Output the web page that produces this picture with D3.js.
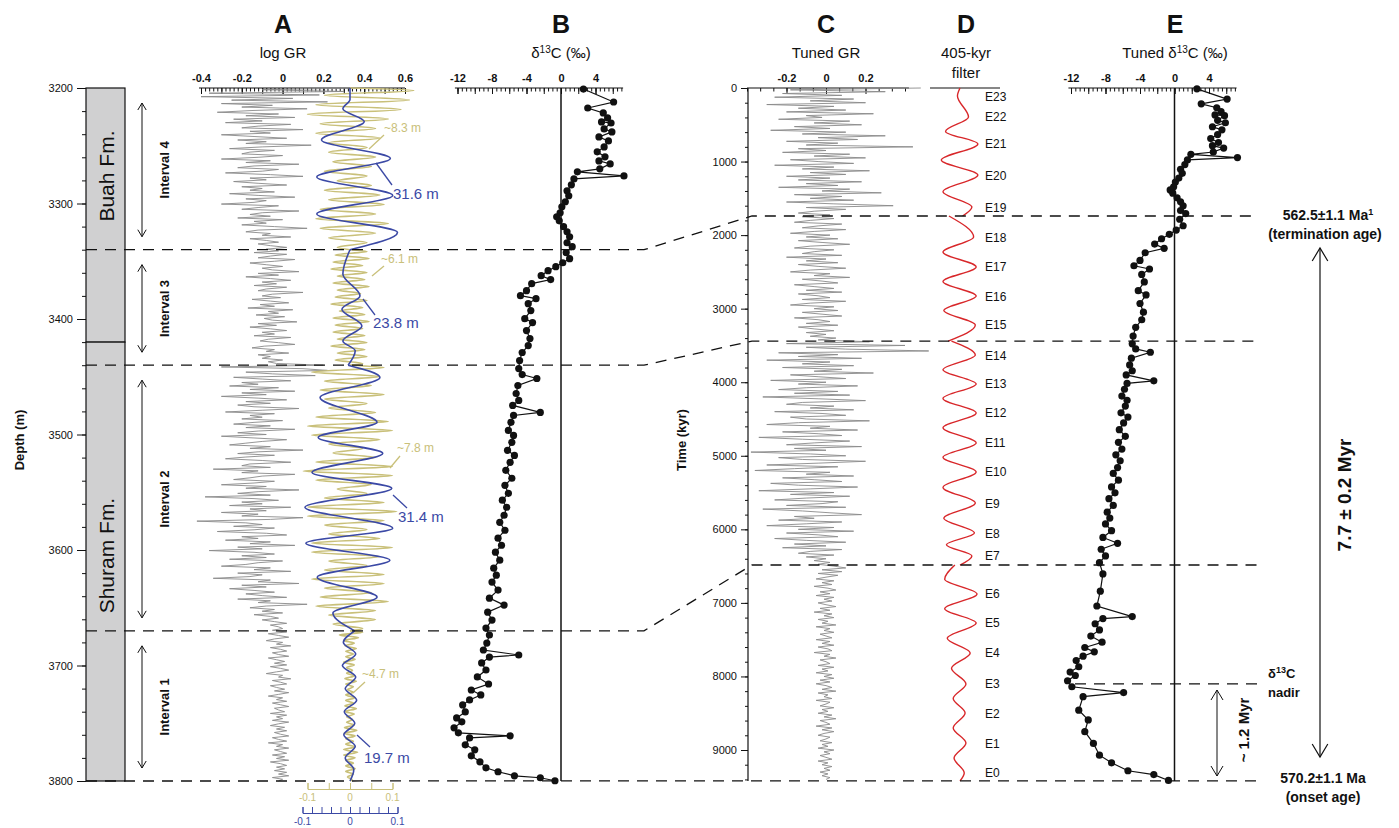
<!DOCTYPE html>
<html>
<head>
<meta charset="utf-8">
<script src="https://cdn.jsdelivr.net/npm/d3@7"></script>
<style>
  body { margin: 0; background: #fff; }
  svg { display: block; }
  text { font-family: "Liberation Sans", Arial, Helvetica, sans-serif; }
</style>
</head>
<body>
<svg id="chart" width="1399" height="828"></svg>
<script>
// ---------------- Data ----------------
// Depth / age tie points (m, kyr) for the tuned age model
const tieDepth = [3200, 3340, 3440, 3670, 3691, 3757, 3800];
const tieTime  = [0, 1740, 3440, 6485, 7190, 8100, 9420];
// Which tie points carry a correlation line, the δ13C nadir and the base
const correlationTies = [1, 2, 3];
const nadirTie = 5, baseTie = 6;

// Interval boundaries (m) and names
const intervalTops = [3200, 3340, 3440, 3670];
const intervalBots = [3340, 3440, 3670, 3800];
const intervalNames = ["Interval 4", "Interval 3", "Interval 2", "Interval 1"];

// Formations (m)
const formations = [
  { name: "Buah Fm.",   top: 3200, bot: 3420 },
  { name: "Shuram Fm.", top: 3420, bot: 3800 }
];

// log GR sampled every 1.5 m from 3200 m
const grStart = 3200, grStep = 1.5;
const logGR = [
  0.38, -0.1, 0.3, -0.36, 0.18, -0.4, 0.05, -0.25, 0.22, -0.3,
  -0.05, -0.2, 0.12, -0.15, -0.32, -0.02, -0.18, 0.06, -0.24, -0.1,
  -0.28, 0.04, -0.12, -0.2, 0.1, -0.16, -0.06, -0.3, -0.14, 0.02,
  -0.22, -0.08, -0.18, 0.14, -0.1, -0.26, -0.04, -0.16, -0.2, 0.0,
  -0.12, -0.3, -0.06, -0.18, 0.08, -0.14, -0.22, -0.02, -0.1, -0.28,
  -0.06, 0.1, -0.16, -0.08, -0.24, -0.12, 0.02, -0.2, -0.1, -0.16,
  -0.04, -0.26, -0.12, 0.06, -0.18, -0.08, -0.14, -0.3, -0.02, -0.12,
  -0.2, 0.08, -0.1, -0.16, -0.06, -0.22, 0.0, -0.14, -0.08, -0.2,
  -0.04, 0.12, -0.12, -0.18, -0.06, -0.1, 0.04, -0.16, -0.08, -0.02,
  -0.12, -0.06, 0.02,
  -0.08, -0.02, -0.14, 0.02, -0.06, -0.12, 0.06, -0.04, -0.16, -0.08,
  0.0, -0.1, -0.05, 0.08, -0.12, -0.02, -0.18, -0.06, 0.04, -0.1,
  -0.03, -0.14, 0.02, -0.08, -0.12, 0.1, -0.05, -0.1, -0.01, -0.15,
  -0.06, 0.03, -0.11, -0.04, -0.17, 0.05, -0.07, -0.02, -0.13, 0.01,
  -0.09, -0.05, 0.07, -0.12, -0.03, -0.16, -0.06, 0.02, -0.1, -0.04,
  -0.14, 0.04, -0.07, -0.11, -0.02, 0.06, -0.09, -0.15, -0.04, -0.08,
  0.03, -0.12, -0.06, -0.1, 0.0, -0.07, -0.03,
  0.2, -0.3, 0.1, 0.22, -0.18, -0.05, 0.16, -0.24, -0.1, 0.04,
  -0.2, -0.12, -0.26, -0.02, -0.16, 0.06, -0.2, -0.08, -0.3, -0.12,
  0.02, -0.18, -0.06, -0.22, -0.14, 0.08, -0.1, -0.28, -0.04, -0.16,
  -0.1, -0.2, 0.0, -0.14, -0.24, -0.06, -0.18, 0.06, -0.12, -0.22,
  -0.08, -0.3, -0.14, 0.02, -0.1, -0.18, -0.26, -0.06, -0.16, 0.1,
  -0.12, -0.22, -0.04, -0.18, -0.28, -0.1, 0.04, -0.16, -0.2, -0.06,
  -0.34, -0.12, -0.2, 0.06, -0.1, -0.16, -0.24, -0.04, -0.14, -0.3,
  -0.08, -0.18, 0.08, -0.12, -0.22, -0.06, -0.38, -0.14, -0.02, -0.2,
  -0.1, -0.26, 0.04, -0.16, -0.08, -0.3, -0.12, -0.2, 0.1, -0.06,
  -0.42, -0.18, -0.1, -0.24, -0.04, -0.14, -0.32, -0.08, 0.02, -0.2,
  -0.12, -0.28, -0.06, -0.16, 0.06, -0.22, -0.1, -0.36, -0.14, -0.04,
  -0.2, -0.08, -0.26, 0.0, -0.12, -0.18, -0.3, -0.06, -0.14, 0.04,
  -0.22, -0.1, -0.16, -0.34, -0.06, -0.12, 0.08, -0.2, -0.08, -0.26,
  -0.14, -0.04, -0.18, -0.1, 0.02, -0.22, -0.06, -0.12, 0.12, -0.08,
  -0.16, -0.04, -0.1, 0.0, -0.14, -0.06, -0.02, -0.1, -0.04, 0.02,
  -0.06, -0.02, 0.0,
  -0.05, 0.02, -0.07, -0.02, 0.03, -0.04, -0.08, 0.0, -0.03, 0.04,
  -0.06, -0.01, 0.02, -0.05, -0.02, 0.03, -0.07, -0.03, 0.01, -0.04,
  0.02, -0.06, -0.01, 0.03, -0.03, -0.08, 0.0, -0.02, 0.04, -0.05,
  -0.01, 0.02, -0.06, -0.03, 0.01, -0.04, 0.03, -0.02, -0.07, 0.0,
  -0.03, 0.02, -0.05, -0.01, 0.03, -0.04, -0.02, 0.01, -0.06, 0.02,
  -0.03, 0.0, -0.05, 0.03, -0.02, -0.06, 0.01, -0.03, 0.02, -0.04,
  -0.01, 0.03, -0.05, -0.02, 0.02, -0.07, 0.0, -0.03, 0.03, -0.04,
  -0.01, 0.02, -0.05, 0.01, -0.03, 0.03, -0.06, -0.01, 0.02, -0.03,
  0.01, -0.04, 0.02, -0.02, 0.03, -0.05, 0.0, -0.02
];

// Short-period filter extremes per interval (Interval 4 .. Interval 1)
const yellowInt4 = [0.15, -0.06, 0.14, -0.08, 0.12, -0.1, 0.09, -0.07, 0.06, -0.08, 0.07, -0.05, 0.04, -0.05, 0.06, -0.04, 0.05, -0.06, 0.04, -0.03, 0.05, -0.06, 0.07, -0.05, 0.08, -0.07, 0.06, -0.08, 0.09, -0.07, 0.06, -0.05, 0.04, -0.03];
const yellowInt3 = [0.04, -0.035, 0.045, -0.04, 0.03, -0.045, 0.04, -0.03, 0.035, -0.04, 0.045, -0.03, 0.025, -0.035, 0.04, -0.045, 0.03, -0.025, 0.035, -0.04, 0.045, -0.035, 0.03, -0.04, 0.035, -0.03, 0.04, -0.045, 0.035, -0.03, 0.04, -0.035, 0.03];
const yellowInt2 = [0.08, -0.09, 0.07, -0.06, 0.05, -0.07, 0.08, -0.06, 0.04, -0.05, 0.06, -0.08, 0.09, -0.1, 0.1, -0.09, 0.07, -0.05, 0.03, -0.04, 0.06, -0.08, 0.1, -0.11, 0.1, -0.08, 0.05, -0.03, 0.04, -0.06, 0.08, -0.1, 0.11, -0.1, 0.08, -0.06, 0.04, -0.05, 0.07, -0.09, 0.1, -0.09, 0.07, -0.05, 0.04, -0.06, 0.08, -0.09, 0.08, -0.06, 0.05, -0.07, 0.09, -0.08, 0.06, -0.05, 0.06, -0.04, 0.03];
const yellowInt1 = [0.03, -0.025, 0.02, -0.015, 0.01, -0.012, 0.015, -0.01, 0.008, -0.01, 0.012, -0.015, 0.01, -0.008, 0.006, -0.008, 0.01, -0.012, 0.015, -0.01, 0.008, -0.006, 0.008, -0.01, 0.012, -0.01, 0.008, -0.012, 0.015, -0.012, 0.01, -0.008, 0.006, -0.008, 0.01, -0.013, 0.016, -0.014, 0.012, -0.01, 0.008, -0.01, 0.012, -0.015, 0.018, -0.015, 0.012, -0.01, 0.008, -0.01, 0.012, -0.01, 0.008, -0.006, 0.005];

// Long-period filter [depth m, value]
const blueInt4 = [[3200, 0], [3210, 0.0], [3218, -0.015], [3229, 0.03], [3245, -0.06], [3261, 0.085], [3277, -0.07], [3293, 0.09], [3309, -0.07], [3325, 0.1], [3340, 0]];
const blueInt3 = [[3340, 0], [3361, -0.015], [3380, 0.021], [3391.5, -0.017], [3406, 0.025], [3419, -0.015], [3427.5, 0.011], [3440, -0.004]];
const blueInt2 = [[3440, -0.004], [3450.6, 0.063], [3467.9, -0.063], [3489.5, 0.057], [3502.5, -0.067], [3516.3, 0.069], [3532.8, -0.08], [3546.6, 0.088], [3563, -0.095], [3581.2, 0.09], [3594.1, -0.093], [3608.8, 0.084], [3623.5, -0.069], [3640.8, 0.057], [3654.6, -0.036], [3670, 0.01]];
const blueInt1 = [[3670, 0.01], [3680, -0.014], [3690, 0.012], [3700, -0.016], [3710, 0.012], [3720, -0.01], [3730, 0.014], [3740, -0.012], [3750, 0.01], [3760, -0.013], [3770, 0.011], [3780, -0.01], [3790, 0.008], [3800, 0.0]];

// Carbon isotopes [depth m, δ13C ‰]
const d13C = [
  [3200.9, 2.6], [3212.1, 6.1], [3217.3, 3.1], [3221.6, 4.9], [3225.9, 5.4], [3229.4, 4.7], [3230.3, 5.8],
  [3235.4, 5.0], [3238.0, 5.9], [3242.4, 4.4], [3245.8, 5.5], [3251.0, 5.0], [3255.3, 4.2], [3259.6, 5.1],
  [3263.1, 4.4], [3265.7, 5.7], [3270.0, 4.5], [3272.6, 1.9], [3276.1, 7.3], [3278.7, 1.5], [3283.8, 1.2],
  [3289.0, 0.7], [3293.3, 0.9], [3298.5, 0.5], [3302.9, 0.1], [3308.0, -0.1], [3311.5, -0.5], [3315.0, -0.2],
  [3320.1, 0.3], [3324.5, 0.7], [3328.8, 1.0], [3334.0, 0.7], [3337.4, 1.3], [3342.6, 0.6], [3347.8, 1.0],
  [3351.3, 0.2], [3354.7, -0.6], [3358.2, -1.5], [3362.5, -2.3], [3365.9, -1.2], [3369.4, -3.4], [3375.5, -4.0],
  [3379.8, -4.7], [3382.4, -2.9], [3386.7, -3.8], [3392.7, -3.5], [3399.7, -4.2], [3403.1, -3.3], [3410.0, -4.0],
  [3416.9, -3.6], [3423.0, -3.8], [3429.0, -4.5], [3436.0, -4.8], [3442.9, -4.9], [3448.1, -4.5], [3451.5, -2.8],
  [3457.6, -5.0], [3464.5, -5.2], [3470.5, -4.9], [3474.8, -5.6], [3480.9, -2.4], [3483.5, -5.5], [3489.5, -5.8],
  [3496.5, -6.1], [3500.8, -5.5], [3506.8, -5.7], [3513.7, -6.2], [3518.1, -5.4], [3524.1, -5.9], [3531.0, -6.4],
  [3537.9, -5.7], [3544.0, -6.5], [3550.9, -6.1], [3556.9, -6.8], [3563.0, -6.3], [3569.9, -6.6], [3576.0, -7.1],
  [3582.9, -6.5], [3589.8, -7.3], [3595.9, -6.9], [3601.9, -7.6], [3608.8, -7.1], [3615.7, -7.8], [3621.8, -7.5],
  [3627.8, -8.0], [3634.7, -7.3], [3641.7, -8.3], [3647.7, -6.6], [3653.8, -8.5], [3660.7, -8.0], [3667.6, -8.7],
  [3673.6, -8.3], [3680.6, -8.6], [3686.6, -9.0], [3690.9, -4.9], [3692.7, -8.3], [3697.8, -9.2], [3703.9, -8.7],
  [3709.9, -9.7], [3716.0, -8.4], [3721.2, -10.4], [3725.5, -9.3], [3729.8, -10.6], [3734.1, -11.4], [3740.2, -11.1],
  [3745.4, -12.1], [3748.8, -11.5], [3754.0, -12.4], [3758.3, -11.9], [3760.9, -5.9], [3762.7, -10.6], [3768.7, -11.1],
  [3773.0, -10.0], [3778.2, -10.4], [3783.4, -9.4], [3788.6, -8.7], [3792.0, -7.3], [3795.5, -5.4], [3797.2, -2.4],
  [3799.8, -0.7]
];

// Tuned GR sampled every 25 kyr from 0 kyr
const tunedStart = 0, tunedStep = 25;
const tunedGR = [
  0.48, -0.18, 0.3, -0.22, 0.08, -0.26, 0.14, -0.08, 0.2, -0.3,
  0.04, -0.14, 0.1, -0.2, 0.24, -0.1, -0.02, -0.24, 0.12, -0.06,
  0.18, -0.16, 0.02, -0.28, 0.1, -0.12, 0.3, -0.04, 0.16, -0.2,
  0.06, -0.1, 0.44, -0.14, 0.0, -0.22, 0.12, -0.06, 0.2, -0.18,
  -0.04, 0.14, -0.26, 0.04, -0.12, 0.22, -0.08, 0.1, -0.2, 0.02,
  -0.14, 0.18, -0.1, 0.06, -0.24, 0.12, -0.02, 0.28, -0.16, 0.08,
  -0.08, 0.14, -0.2, 0.04, 0.34, -0.1, 0.1, -0.06, -0.14, 0.02,
  -0.12, 0.04, -0.08, -0.16, 0.08, -0.04, -0.12, 0.1, -0.06, -0.18,
  0.02, -0.1, 0.06, -0.14, -0.02, 0.12, -0.08, -0.16, 0.04, -0.06,
  -0.12, 0.08, -0.2, 0.0, -0.1, 0.06, -0.14, -0.04, 0.1, -0.08,
  -0.18, 0.02, -0.06, 0.12, -0.12, -0.02, 0.06, -0.16, -0.06, 0.04,
  -0.1, 0.08, -0.14, -0.04, 0.02, -0.12, 0.1, -0.08, -0.18, 0.04,
  -0.06, 0.06, -0.12, -0.02, 0.08, -0.16, -0.04, 0.02, -0.1, 0.06,
  -0.14, -0.06, 0.04, -0.1, 0.0, -0.08, 0.05, -0.04,
  0.22, -0.2, 0.4, -0.1, 0.1, 0.52, -0.24, 0.06, -0.14, 0.18,
  -0.3, 0.02, -0.12, 0.14, -0.22, 0.08, -0.06, 0.24, -0.18, -0.04,
  0.1, -0.28, 0.0, -0.14, 0.16, -0.1, -0.24, 0.06, -0.16, 0.12,
  -0.32, -0.04, 0.2, -0.12, -0.2, 0.04, -0.08, 0.14, -0.26, -0.02,
  0.1, -0.18, -0.1, 0.22, -0.14, -0.3, 0.02, -0.08, 0.16, -0.22,
  -0.04, 0.08, -0.34, -0.12, 0.12, -0.06, -0.2, 0.18, -0.16, 0.0,
  -0.38, -0.08, 0.1, -0.24, -0.12, 0.2, -0.04, -0.3, 0.06, -0.16,
  -0.36, 0.02, -0.1, 0.14, -0.22, -0.06, 0.08, -0.28, -0.14, 0.16,
  -0.08, -0.34, 0.04, -0.18, 0.12, -0.1, -0.26, 0.06, -0.02, -0.2,
  0.1, -0.32, -0.12, 0.02, 0.18, -0.16, -0.06, -0.24, 0.08, -0.1,
  -0.3, 0.04, -0.14, 0.14, -0.2, -0.04, 0.06, -0.26, -0.1, 0.1,
  -0.16, 0.0, -0.22, 0.08, -0.08, -0.14, 0.04, -0.1, 0.0, -0.06,
  0.02, -0.04,
  0.04, 0.1, -0.02, 0.08, -0.04, 0.06, 0.0, -0.05, 0.04, -0.02,
  0.03, -0.06, 0.01, 0.05, -0.03, 0.02, -0.05, 0.04, -0.01, 0.03,
  -0.04, 0.0, 0.05, -0.03, 0.02, -0.06, 0.03, -0.01, 0.04, -0.04,
  0.01, -0.02, 0.05, -0.05, 0.02, -0.01, 0.04, -0.03, 0.0, 0.03,
  -0.05, 0.02, -0.02, 0.04, -0.04, 0.01, 0.03, -0.06, 0.02, -0.01,
  0.05, -0.03, 0.0, 0.02, -0.04, 0.04, -0.02, 0.01, -0.05, 0.03,
  -0.01, 0.04, -0.03, 0.02, -0.05, 0.0, 0.03, -0.02, 0.05, -0.04,
  0.01, -0.01, 0.03, -0.05, 0.02, 0.0, -0.03, 0.04, -0.02, 0.01,
  -0.04, 0.03, -0.01, 0.05, -0.03, 0.0, 0.02, -0.05, 0.03, -0.02,
  0.04, -0.01, -0.04, 0.02, 0.0, -0.03, 0.03, -0.02, 0.01, -0.04,
  0.04, -0.01, 0.02, -0.03, 0.0, 0.03, -0.04, 0.01, -0.02, 0.03,
  -0.01, 0.02, -0.03, 0.01, -0.02, 0.02, 0.0
];

// 405-kyr filter extremes [time kyr, value], one segment per interval
const eccSeg4 = [[0, 0], [110, -0.15], [394, 0.5], [590, -0.85], [761, 1.05], [980, -1.1], [1183, 1.05], [1410, -1.0], [1618, 0.7], [1740, 0.15]];
const eccSeg3 = [[1740, -0.65], [2026, 0.8], [2230, -1.0], [2433, 0.95], [2630, -1.0], [2828, 0.95], [3025, -0.95], [3222, 0.9], [3440, -0.7]];
const eccSeg2 = [[3440, -0.5], [3630, 0.9], [3830, -1.0], [4024, 0.95], [4220, -1.0], [4418, 0.95], [4620, -1.0], [4826, 0.95], [5020, -1.0], [5220, 0.95], [5430, -1.0], [5642, 0.9], [5850, -0.95], [6050, 0.85], [6210, -0.8], [6362, 0.7], [6485, 0.0]];
const eccSeg1 = [[6485, -0.3], [6680, -0.9], [6879, 1.0], [7080, -0.9], [7273, 0.95], [7480, -0.75], [7681, 0.6], [7890, -0.5], [8102, 0.35], [8300, -0.4], [8497, 0.3], [8700, -0.4], [8905, 0.35], [9110, -0.35], [9312, 0.25], [9420, 0]];

// Eccentricity maxima labels (kyr)
const eccNames = ["E23","E22","E21","E20","E19","E18","E17","E16","E15","E14","E13","E12","E11","E10","E9","E8","E7","E6","E5","E4","E3","E2","E1","E0"];
const eccTimes = [122, 394, 761, 1183, 1618, 2026, 2433, 2828, 3222, 3630, 4024, 4418, 4826, 5220, 5642, 6050, 6362, 6879, 7273, 7681, 8102, 8497, 8905, 9312];

// Axis ticks
const depthTicks = [3200, 3300, 3400, 3500, 3600, 3700, 3800];
const timeTicks = [0, 1000, 2000, 3000, 4000, 5000, 6000, 7000, 8000, 9000];
const grTicks = [-0.4, -0.2, 0, 0.2, 0.4, 0.6];
const carbonTicks = [-12, -8, -4, 0, 4];
const tunedTicks = [-0.2, 0, 0.2];
const filterTicks = [-0.1, 0, 0.1];

// ---------------- Layout & scales ----------------
const svg = d3.select("#chart");
const AX = 88;                       // top axis line
const yDepth = d3.scaleLinear().domain([3200, 3800]).range([88, 781]);
const yTime  = d3.scaleLinear().domain([0, 9000]).range([88, 750]);
const ageModel = d3.scaleLinear().domain(tieDepth).range(tieTime);

const xGR   = d3.scaleLinear().domain([-0.4, 0.6]).range([201, 405]);
const xYel  = d3.scaleLinear().domain([-0.1, 0.1]).range([307.5, 392.5]);
const xBlue = d3.scaleLinear().domain([-0.1, 0.1]).range([302.5, 397.5]);
const xB    = d3.scaleLinear().domain([-12, 4]).range([457.5, 595.5]);
const xC    = d3.scaleLinear().domain([-0.2, 0.2]).range([786.5, 865.5]);
const xD    = d3.scaleLinear().domain([-1, 1]).range([943, 977]);
const xE    = d3.scaleLinear().domain([-12, 4]).range([1071, 1209]);

const INK = "#111";
const GREY = "#8a8a8a";
const YEL = "#c9c07a";
const BLUE = "#3b49a5";
const RED = "#d8272a";

// ---------------- Helpers ----------------
function topAxis(scale, major, minorStep, lo, hi, fmt, majorStep) {
  const g = svg.append("g").attr("transform", `translate(0,${AX})`);
  g.append("line").attr("x1", scale(lo)).attr("x2", scale(hi))
    .attr("stroke", INK).attr("stroke-width", 1.2);
  const minor = d3.range(Math.ceil(lo / minorStep - 1e-9), Math.floor(hi / minorStep + 1e-9) + 1).map(i => +(i * minorStep).toFixed(6));
  const mg = g.append("g").call(d3.axisTop(scale).tickValues(minor).tickSizeInner(-3.5).tickSizeOuter(0).tickFormat(""));
  mg.select(".domain").remove();
  mg.selectAll("line").attr("stroke", INK);
  if (majorStep) {
    const mj = d3.range(Math.ceil(lo / majorStep - 1e-9), Math.floor(hi / majorStep + 1e-9) + 1).map(i => +(i * majorStep).toFixed(6));
    const jg = g.append("g").call(d3.axisTop(scale).tickValues(mj).tickSizeInner(-6).tickSizeOuter(0).tickFormat(""));
    jg.select(".domain").remove();
    jg.selectAll("line").attr("stroke", INK);
  }
  const lg = g.append("g").call(d3.axisTop(scale).tickValues(major).tickSizeInner(-6).tickSizeOuter(0).tickPadding(6).tickFormat(fmt));
  lg.select(".domain").remove();
  lg.selectAll("line").attr("stroke", INK);
  lg.selectAll("text").attr("font-size", 11).attr("font-weight", 700).attr("fill", INK)
    .attr("font-family", "'Liberation Sans', Arial, sans-serif");
  return g;
}

function header(x, letter, lines) {
  svg.append("text").attr("x", x).attr("y", 33).attr("text-anchor", "middle")
    .attr("font-size", 25).attr("font-weight", 700).attr("fill", INK).text(letter);
  lines.forEach((t, i) => {
    svg.append("text").attr("x", x).attr("y", 58 + i * 20).attr("text-anchor", "middle")
      .attr("font-size", 15).attr("fill", INK).html(t);
  });
}

function doubleArrow(x, y1, y2, head, w) {
  const g = svg.append("g").attr("stroke", INK).attr("fill", "none").attr("stroke-width", w);
  g.append("line").attr("x1", x).attr("x2", x).attr("y1", y1).attr("y2", y2);
  g.append("path").attr("d", `M${x - head * 0.6},${y1 + head} L${x},${y1} L${x + head * 0.6},${y1 + head}`);
  g.append("path").attr("d", `M${x - head * 0.6},${y2 - head} L${x},${y2} L${x + head * 0.6},${y2 - head}`);
}

function filterNodes(top, bot, vals) {
  const step = (bot - top) / vals.length;
  return [[top, 0], ...vals.map((v, i) => [top + (i + 0.5) * step, v]), [bot, 0]];
}

function logPath(values, yScale, xScale, start, step) {
  const line = d3.line().x(d => xScale(d)).y((d, i) => yScale(start + i * step));
  return svg.append("path").attr("d", line(values))
    .attr("fill", "none").attr("stroke", GREY).attr("stroke-width", 0.9).attr("stroke-linejoin", "round");
}

const fmtGR = d => d === 0 ? "0" : d3.format(".1f")(d).replace("−", "-");
const fmtInt = d => String(d);

// ---------------- Headers ----------------
header(283, "A", ["log GR"]);
header(561, "B", ["δ<tspan baseline-shift='super' font-size='10'>13</tspan>C (‰)"]);
header(826, "C", ["Tuned GR"]);
header(966, "D", ["405-kyr", "filter"]);
header(1175, "E", ["Tuned δ<tspan baseline-shift='super' font-size='10'>13</tspan>C (‰)"]);

// ---------------- Top axes ----------------
topAxis(xGR, grTicks, 0.02, -0.41, 0.6, fmtGR, 0.1);
topAxis(xB, carbonTicks, 0.5, -12.3, 7.2, fmtInt, 2);
topAxis(xC, tunedTicks, 0.2 / 3, -0.4, 0.42, fmtGR, null);
topAxis(xE, carbonTicks, 0.5, -12.3, 7.2, fmtInt, 2);
svg.append("line").attr("x1", 930).attr("x2", 1000).attr("y1", AX).attr("y2", AX)
  .attr("stroke", INK).attr("stroke-width", 1.2);

// ---------------- Depth axis + formations ----------------
const fmOffset = { "Buah Fm.": -39, "Shuram Fm.": -6 };
formations.forEach(f => {
  svg.append("rect").attr("x", 86).attr("width", 39)
    .attr("y", yDepth(f.top)).attr("height", yDepth(f.bot) - yDepth(f.top))
    .attr("fill", "#d0d0d1").attr("stroke", INK).attr("stroke-width", 1.2);
  const cy = (yDepth(f.top) + yDepth(f.bot)) / 2 + fmOffset[f.name];
  svg.append("text").attr("transform", `translate(114,${cy}) rotate(-90)`)
    .attr("text-anchor", "middle").attr("font-size", 21).attr("fill", INK).text(f.name);
});
{
  const g = svg.append("g").attr("transform", "translate(86,0)");
  const minor = d3.range(3200, 3801, 20);
  g.call(d3.axisLeft(yDepth).tickValues(minor).tickSize(4).tickFormat(""))
    .select(".domain").remove();
  const mj = svg.append("g").attr("transform", "translate(86,0)")
    .call(d3.axisLeft(yDepth).tickValues(depthTicks).tickSize(9).tickPadding(4).tickFormat(d3.format("d")));
  mj.select(".domain").remove();
  mj.selectAll("text").attr("font-size", 11).attr("fill", INK);
  svg.selectAll("g line").attr("stroke", INK);
}
svg.append("text").attr("transform", "translate(24,440) rotate(-90)").attr("text-anchor", "middle")
  .attr("font-size", 13).attr("font-weight", 700).attr("fill", INK).text("Depth (m)");

// Interval arrows
intervalNames.forEach((n, i) => {
  const y1 = yDepth(intervalTops[i]) + 15, y2 = yDepth(intervalBots[i]) - 13;
  doubleArrow(142, y1, y2, 7, 1);
  svg.append("text").attr("transform", `translate(169,${(y1 + y2) / 2}) rotate(-90)`)
    .attr("text-anchor", "middle").attr("font-size", 13).attr("font-weight", 700).attr("fill", INK).text(n);
});

// ---------------- Time axis ----------------
{
  svg.append("line").attr("x1", 748).attr("x2", 748).attr("y1", AX).attr("y2", yTime(9420))
    .attr("stroke", INK).attr("stroke-width", 1.2);
  const mg = svg.append("g").attr("transform", "translate(748,0)")
    .call(d3.axisLeft(yTime).tickValues(d3.range(0, 9401, 200)).tickSize(3).tickFormat(""));
  mg.select(".domain").remove();
  const g = svg.append("g").attr("transform", "translate(748,0)")
    .call(d3.axisLeft(yTime).tickValues(timeTicks).tickSize(7).tickPadding(4).tickFormat(d3.format("d")));
  g.select(".domain").remove();
  g.selectAll("text").attr("font-size", 11).attr("fill", INK);
  svg.selectAll("g line").attr("stroke", INK);
}
svg.append("text").attr("transform", "translate(686,440) rotate(-90)").attr("text-anchor", "middle")
  .attr("font-size", 13).attr("font-weight", 700).attr("fill", INK).text("Time (kyr)");

// ---------------- Panel A ----------------
logPath(logGR, yDepth, xGR, grStart, grStep);

const yelLine = d3.line().x(d => xYel(d[1])).y(d => yDepth(d[0])).curve(d3.curveMonotoneY);
[yellowInt4, yellowInt3, yellowInt2, yellowInt1].forEach((vals, i) => {
  svg.append("path").attr("d", yelLine(filterNodes(intervalTops[i], intervalBots[i], vals)))
    .attr("fill", "none").attr("stroke", YEL).attr("stroke-width", 1.6);
});
const blueLine = d3.line().x(d => xBlue(d[1])).y(d => yDepth(d[0])).curve(d3.curveMonotoneY);
[blueInt4, blueInt3, blueInt2, blueInt1].forEach(arr => {
  svg.append("path").attr("d", blueLine(arr)).attr("fill", "none")
    .attr("stroke", BLUE).attr("stroke-width", 1.6);
});

// Filter scales below panel A
{
  const g1 = svg.append("g").attr("transform", "translate(0,789)")
    .call(d3.axisTop(xYel).tickValues(d3.range(-0.1, 0.1001, 0.05)).tickSize(6).tickFormat(""));
  g1.selectAll("path,line").attr("stroke", YEL);
  filterTicks.forEach(t => svg.append("text").attr("x", xYel(t)).attr("y", 801).attr("text-anchor", "middle")
    .attr("font-size", 10).attr("fill", YEL).text(t === 0 ? "0" : t.toFixed(1)));
  const g2 = svg.append("g").attr("transform", "translate(0,813)")
    .call(d3.axisTop(xBlue).tickValues(d3.range(-0.1, 0.1001, 0.02)).tickSize(6).tickFormat(""));
  g2.selectAll("path,line").attr("stroke", BLUE);
  filterTicks.forEach(t => svg.append("text").attr("x", xBlue(t)).attr("y", 825).attr("text-anchor", "middle")
    .attr("font-size", 10).attr("fill", BLUE).text(t === 0 ? "0" : t.toFixed(1)));
}

// Period labels
function periodLabel(txt, color, size, tx, ty, lx1, ly1, lx2, ly2) {
  svg.append("line").attr("x1", lx1).attr("y1", ly1).attr("x2", lx2).attr("y2", ly2)
    .attr("stroke", color).attr("stroke-width", 1.3);
  svg.append("text").attr("x", tx).attr("y", ty).attr("font-size", size).attr("fill", color).text(txt);
}
periodLabel("~8.3 m", YEL, 12, 384, 132, 369, 149, 384, 135);
periodLabel("31.6 m", BLUE, 15, 393, 199, 376, 163, 392, 185);
periodLabel("~6.1 m", YEL, 12, 381, 263, 372, 276, 384, 266);
periodLabel("23.8 m", BLUE, 15, 373, 328, 363, 299, 375, 315);
periodLabel("~7.8 m", YEL, 12, 397, 452, 390, 468, 400, 456);
periodLabel("31.4 m", BLUE, 15, 398, 522, 393, 495, 407, 508);
periodLabel("~4.7 m", YEL, 12, 362, 678, 353, 693, 365, 682);
periodLabel("19.7 m", BLUE, 15, 364, 763, 357, 735, 370, 747);

// ---------------- Panel B ----------------
svg.append("line").attr("x1", xB(0)).attr("x2", xB(0)).attr("y1", AX).attr("y2", yDepth(3800))
  .attr("stroke", INK).attr("stroke-width", 1.5);
const bLine = d3.line().x(d => xB(d[1])).y(d => yDepth(d[0]));
svg.append("path").attr("d", bLine(d13C)).attr("fill", "none").attr("stroke", INK).attr("stroke-width", 1.2);
svg.append("g").selectAll("circle").data(d13C).join("circle")
  .attr("cx", d => xB(d[1])).attr("cy", d => yDepth(d[0])).attr("r", 3.6).attr("fill", INK);

// ---------------- Panel C ----------------
logPath(tunedGR, yTime, xC, tunedStart, tunedStep);

// ---------------- Panel D ----------------
const dLine = d3.line().x(d => xD(d[1])).y(d => yTime(d[0])).curve(d3.curveMonotoneY);
[eccSeg4, eccSeg3, eccSeg2, eccSeg1].forEach(seg => {
  svg.append("path").attr("d", dLine(seg)).attr("fill", "none").attr("stroke", RED).attr("stroke-width", 1.4);
});
eccNames.forEach((n, i) => {
  svg.append("text").attr("x", 985).attr("y", yTime(eccTimes[i]) + 4.5)
    .attr("font-size", 12).attr("fill", INK).text(n);
});

// ---------------- Panel E ----------------
const tuned13C = d13C.map(d => [ageModel(d[0]), d[1]]);
svg.append("line").attr("x1", xE(0)).attr("x2", xE(0)).attr("y1", AX).attr("y2", yTime(9420))
  .attr("stroke", INK).attr("stroke-width", 1.5);
const eLine = d3.line().x(d => xE(d[1])).y(d => yTime(d[0]));
svg.append("path").attr("d", eLine(tuned13C)).attr("fill", "none").attr("stroke", INK).attr("stroke-width", 1.2);
svg.append("g").selectAll("circle").data(tuned13C).join("circle")
  .attr("cx", d => xE(d[1])).attr("cy", d => yTime(d[0])).attr("r", 3.6).attr("fill", INK);

// ---------------- Correlation lines ----------------
const dash = { stroke: INK, "stroke-width": 1.3, "stroke-dasharray": "11,8", fill: "none" };
function dashed(d) {
  const p = svg.append("path").attr("d", d);
  Object.entries(dash).forEach(([k, v]) => p.attr(k, v));
}
correlationTies.forEach(i => {
  const y1 = yDepth(tieDepth[i]), y2 = yTime(tieTime[i]);
  dashed(`M86,${y1} L644,${y1} L752,${y2} L1258,${y2}`);
});
dashed(`M86,${yDepth(tieDepth[baseTie])} L1258,${yTime(tieTime[baseTie])}`);
dashed(`M1075,${yTime(tieTime[nadirTie])} L1258,${yTime(tieTime[nadirTie])}`);

// ---------------- Right annotations ----------------
function boldText(x, y, size, html, anchor) {
  return svg.append("text").attr("x", x).attr("y", y).attr("text-anchor", anchor || "middle")
    .attr("font-size", size).attr("font-weight", 700).attr("fill", INK).html(html);
}
boldText(1328, 220, 14, "562.5±1.1 Ma<tspan baseline-shift='super' font-size='9'>1</tspan>");
boldText(1325, 239, 14, "(termination age)");
boldText(1323, 783, 14, "570.2±1.1 Ma");
boldText(1323, 802, 14, "(onset age)");
boldText(1268, 678, 13, "δ<tspan baseline-shift='super' font-size='9'>13</tspan>C", "start");
boldText(1268, 697, 13, "nadir", "start");
doubleArrow(1320, 248, 757, 13, 1.2);
doubleArrow(1217, 690, 776, 10, 1);
svg.append("text").attr("transform", "translate(1351,495) rotate(-90)").attr("text-anchor", "middle")
  .attr("font-size", 19).attr("font-weight", 700).attr("fill", INK).text("7.7 ± 0.2 Myr");
svg.append("text").attr("transform", "translate(1249,730) rotate(-90)").attr("text-anchor", "middle")
  .attr("font-size", 15).attr("font-weight", 700).attr("fill", INK).text("~ 1.2 Myr");
</script>
</body>
</html>
